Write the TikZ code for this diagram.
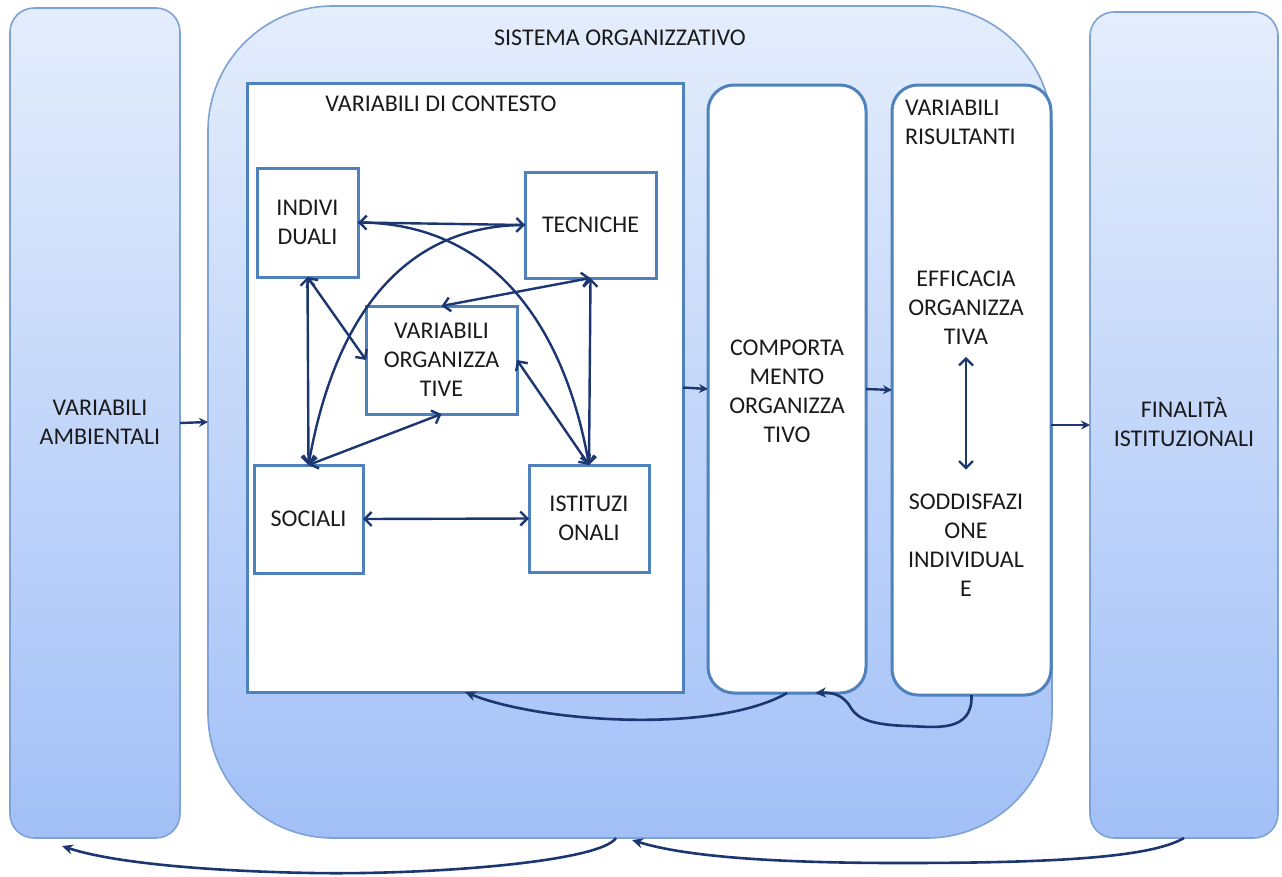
\documentclass[tikz,border=0pt]{standalone}
\usepackage{fontspec}
\setmainfont{Carlito}
\usetikzlibrary{arrows.meta,calc}
\definecolor{edge}{HTML}{4F81BD}
\definecolor{soft}{HTML}{7DA2D3}
\definecolor{navy}{HTML}{1B3670}
\definecolor{paleblue}{HTML}{E4EDFC}
\definecolor{deepblue}{HTML}{A2C0F7}
\definecolor{ink}{HTML}{1A1A1A}
\begin{document}
\begin{tikzpicture}[x=1pt,y=-1pt,
  every node/.style={inner sep=0pt, outer sep=0pt, font=\fontsize{24}{29}\selectfont, text=ink},
  column/.style={draw=soft, line width=1.6pt, top color=paleblue, bottom color=deepblue,
                 rounded corners=24pt, anchor=north west},
  system/.style={column, rounded corners=125pt},
  panel/.style={draw=edge, line width=3pt, fill=white, anchor=north west},
  roundpanel/.style={panel, rounded corners=26pt},
  factor/.style={draw=edge, line width=3pt, fill=white, align=center},
  label/.style={align=center},
  link/.style={draw=navy, line width=2.4pt,
               {Straight Barb[length=7pt,width=14pt]}-{Straight Barb[length=7pt,width=14pt]}},
  arc/.style={draw=navy, line width=2.4pt, -{Straight Barb[length=7pt,width=14pt]}},
  flow/.style={draw=navy, line width=2.4pt, -{Stealth[length=9pt,width=9pt]}},
  feed/.style={draw=navy, line width=2.6pt, -{Stealth[length=11pt,width=10pt]}},
]
\useasboundingbox (0,0) rectangle (1282,876);

% outer columns and the organisational system
\node[column, minimum width=170pt, minimum height=830pt] (amb) at (10,8) {};
\node[column, minimum width=188pt, minimum height=826pt] (fin) at (1090,12) {};
\node[system, minimum width=844pt, minimum height=832pt] (sys) at (208,6) {};

% inner panels
\node[panel, minimum width=436pt, minimum height=609pt] (ctx) at (247,83) {};
\node[roundpanel, minimum width=158pt, minimum height=608pt] (comp) at (708,85) {};
\node[roundpanel, minimum width=159pt, minimum height=610pt] (ris) at (892,85) {};

% titles and labels
\node[label] (systitle) at (620,38) {SISTEMA ORGANIZZATIVO};
\node[label] (ctxtitle) at (441,104) {VARIABILI DI CONTESTO};
\node[label] (ambtext) at (100,422) {VARIABILI\\AMBIENTALI};
\node[label] (fintext) at (1184,422) {FINALITÀ\\ISTITUZIONALI};
\node[label] (comptext) at (787,391) {COMPORTA\\MENTO\\ORGANIZZA\\TIVO};
\node[align=left, anchor=west] (ristitle) at (905,122) {VARIABILI\\RISULTANTI};
\node[label] (eff) at (966,308) {EFFICACIA\\ORGANIZZA\\TIVA};
\node[label] (sod) at (966,545) {SODDISFAZI\\ONE\\INDIVIDUAL\\E};

% context variables
\node[factor, minimum width=101pt, minimum height=109pt] (ind) at (307.5,222.5) {INDIVI\\DUALI};
\node[factor, minimum width=131pt, minimum height=106pt] (tec) at (590.5,225) {TECNICHE};
\node[factor, minimum width=151pt, minimum height=108pt] (org) at (441.5,360) {VARIABILI\\ORGANIZZA\\TIVE};
\node[factor, minimum width=109pt, minimum height=108pt] (soc) at (308.5,519) {SOCIALI};
\node[factor, minimum width=120pt, minimum height=107pt] (ist) at (589,518.5) {ISTITUZI\\ONALI};

% mutual links between context variables
\draw[link] (ind.east) -- (tec.west);
\draw[link] (ind.south) -- (soc.north);
\draw[link] (ind.south) -- (org.west);
\draw[link] (tec.south) -- (org.north);
\draw[link] (tec.south) -- (ist.north);
\draw[link] (org.east) -- (ist.north);
\draw[link] (soc.north) -- (org.south);
\draw[link] (soc.east) -- (ist.west);
\draw[arc] (ind.east) to[out=0, in=100, looseness=1.05] (ist.north);
\draw[arc] (tec.west) to[out=180, in=80, looseness=1.05] (soc.north);

% main flow
\draw[flow] (amb.east) -- (sys.west);
\draw[flow] (ctx.east) -- (comp.west);
\draw[flow] (comp.east) -- (ris.west);
\draw[flow] (ris.east |- fin.west) -- (fin.west);
\draw[link, shorten <=12pt, shorten >=24pt] (eff) -- (sod);

% feedback loops
\coordinate (cfb) at ($(comp.south)+(28,0)$);
\coordinate (ambtip) at ($(amb.south)+(-33,8)$);
\coordinate (sysleft) at ($(sys.south)+(-14,0)$);
\coordinate (sysright) at ($(sys.south)+(2,2)$);
\draw[feed] (comp.south) to[out=-150, in=-22, looseness=0.65] (ctx.south);
\draw[feed] (ris.south) .. controls (973,733) and (935,727) .. (908,726)
   .. controls (875,725) and (858,720) .. (851,708)
   .. controls (845,697) and (835,692) .. (cfb);
\draw[feed] (sysleft) .. controls (600,862) and (430,875) .. (312,873)
   .. controls (200,871) and (110,862) .. (ambtip);
\draw[feed] (fin.south) .. controls (1150,858) and (1050,863) .. (900,863)
   .. controls (760,863) and (680,855) .. (sysright);
\end{tikzpicture}
\end{document}
